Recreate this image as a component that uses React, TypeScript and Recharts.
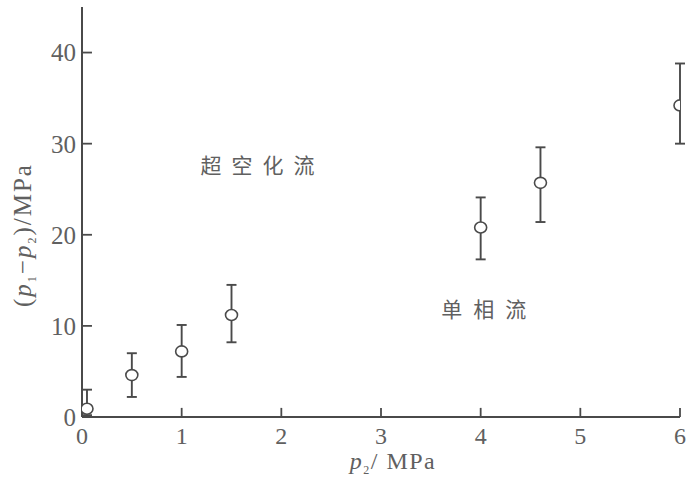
import React from 'react';
import { ScatterChart, Scatter, XAxis, YAxis, ErrorBar, ReferenceDot, ReferenceLine } from 'recharts';

// p2 (MPa) and measured pressure drop (p1 - p2) with its spread
const p2Values = [0.05, 0.5, 1, 1.5, 4, 4.6, 6];
const dropValues = [0.9, 4.6, 7.2, 11.2, 20.8, 25.7, 34.2];
const dropLow = [0.2, 2.2, 4.4, 8.2, 17.3, 21.4, 30.0];
const dropHigh = [3.0, 7.0, 10.1, 14.5, 24.1, 29.6, 38.8];
const xTicks = [0, 1, 2, 3, 4, 5, 6];
const yTicks = [0, 10, 20, 30, 40];

const INK = '#4a4a4a';
const TEXT = '#606060';
const SERIF = '"Liberation Serif", "DejaVu Serif", serif';
const CJK = '"Noto Sans CJK SC", sans-serif';

// inward tick length, in axis units (~9px)
const X_TICK_LEN = 1.0;
const Y_TICK_LEN = 0.1;

const points = p2Values.map((x, i) => ({
  x,
  y: dropValues[i],
  err: [dropValues[i] - dropLow[i], dropHigh[i] - dropValues[i]],
}));

const OpenCircle = (props: any) => {
  const { cx, cy } = props;
  return <ellipse cx={cx} cy={cy} rx={6} ry={5.5} fill="#fff" stroke={INK} strokeWidth={1.6} />;
};

const YLabel = (props: any) => {
  const vb = props.viewBox || {};
  const cx = 31;
  const cy = vb.y + vb.height / 2 + 23;
  return (
    <text
      x={cx}
      y={cy}
      transform={`rotate(-90 ${cx} ${cy})`}
      textAnchor="middle"
      fill={TEXT}
      fontFamily={SERIF}
      fontSize={25}
      letterSpacing={2}
    >
      (<tspan fontStyle="italic">p</tspan>
      <tspan fontSize={12} dy={5}>1</tspan>
      <tspan dy={-5}>−</tspan>
      <tspan fontStyle="italic">p</tspan>
      <tspan fontSize={12} dy={5}>2</tspan>
      <tspan dy={-5}>)/MPa</tspan>
    </text>
  );
};

const XLabel = (props: any) => {
  const vb = props.viewBox || {};
  const cx = vb.x + vb.width / 2 + 12;
  return (
    <text x={cx} y={469} textAnchor="middle" fill={TEXT} fontFamily={SERIF} fontSize={24} letterSpacing={1.5}>
      <tspan fontStyle="italic">p</tspan>
      <tspan fontSize={12} dy={5}>2</tspan>
      <tspan dy={-5}>/ MPa</tspan>
    </text>
  );
};

const regionLabel = (text: string, spacing: number) => (props: any) => {
  const vb = props.viewBox || {};
  return (
    <text
      x={vb.x + spacing / 2}
      y={vb.y}
      textAnchor="middle"
      dominantBaseline="central"
      fill={TEXT}
      fontFamily={CJK}
      fontSize={21}
      letterSpacing={spacing}
    >
      {text}
    </text>
  );
};

export default function App() {
  return (
    <div style={{ position: 'absolute', left: 0, top: 0, background: '#fff' }}>
      <ScatterChart width={687} height={484} margin={{ top: 7, right: 7, left: 22, bottom: 37 }}>
        <XAxis
          type="number"
          dataKey="x"
          domain={[0, 6]}
          ticks={xTicks}
          allowDataOverflow
          height={30}
          stroke={INK}
          strokeWidth={2}
          tickLine={false}
          tickMargin={4}
          tick={{ fill: TEXT, fontSize: 24, fontFamily: SERIF }}
          label={<XLabel />}
        />
        <XAxis
          xAxisId="top"
          orientation="top"
          type="number"
          domain={[0, 6]}
          height={0}
          stroke={INK}
          strokeWidth={2}
          tick={false}
          tickLine={false}
        />
        <YAxis
          type="number"
          dataKey="y"
          domain={[0, 45]}
          ticks={yTicks}
          width={60}
          stroke={INK}
          strokeWidth={2}
          tickLine={false}
          tickMargin={0}
          tick={{ fill: TEXT, fontSize: 25, fontFamily: SERIF }}
          label={<YLabel />}
        />
        {xTicks.map((t) => (
          <ReferenceLine
            key={`xt${t}`}
            segment={[{ x: t, y: 0 }, { x: t, y: X_TICK_LEN }]}
            stroke={INK}
            strokeWidth={1.8}
            ifOverflow="visible"
          />
        ))}
        {yTicks.map((t) => (
          <ReferenceLine
            key={`yt${t}`}
            segment={[{ x: 0, y: t }, { x: Y_TICK_LEN, y: t }]}
            stroke={INK}
            strokeWidth={1.8}
            ifOverflow="visible"
          />
        ))}
        <Scatter data={points} shape={<OpenCircle />} isAnimationActive={false}>
          <ErrorBar dataKey="err" direction="y" width={5} stroke={INK} strokeWidth={1.9} />
        </Scatter>
        <ReferenceDot x={1.76} y={27.8} r={0} stroke="none" label={regionLabel('超空化流', 10)} />
        <ReferenceDot x={4.03} y={12.0} r={0} stroke="none" label={regionLabel('单相流', 11)} />
      </ScatterChart>
    </div>
  );
}
